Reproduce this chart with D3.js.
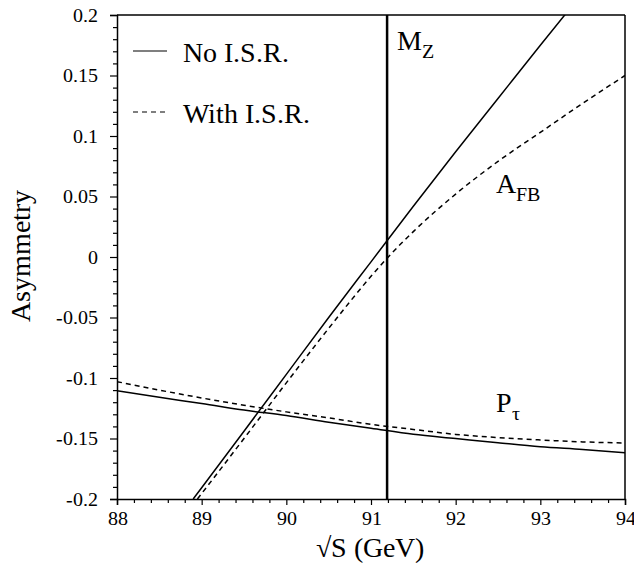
<!DOCTYPE html>
<html><head><meta charset="utf-8">
<script src="https://cdn.jsdelivr.net/npm/d3@7"></script>
<style>
@font-face { font-family: "ChartSerif"; src: local("Liberation Serif"), local("LiberationSerif"), local("Liberation Serif Regular"), local("Tinos"), local("Times New Roman"); }
body { margin: 0; }
svg text { font-family: "ChartSerif", "Liberation Serif", "Times New Roman", Tinos, serif !important; }
</style>
</head><body>
<script>
// ---- data ----
const afbNoIsrX   = [88.9, 89.0, 89.5, 90.0, 90.5, 91.0, 91.5, 92.0, 92.5, 93.0, 93.3];
const afbNoIsrY   = [-0.200, -0.1907, -0.144, -0.097, -0.050, -0.004, 0.042, 0.087, 0.131, 0.175, 0.201];
const afbIsrX     = [88.95, 89.0, 89.5, 90.0, 90.5, 91.0, 91.19, 91.5, 92.0, 92.5, 93.0, 93.5, 94.0];
const afbIsrY     = [-0.200, -0.1955, -0.150, -0.104, -0.059, -0.016, -0.001, 0.021, 0.052, 0.079, 0.103, 0.127, 0.150];
const ptauX       = [88.0, 88.5, 89.0, 89.5, 90.0, 90.5, 91.0, 91.5, 92.0, 92.5, 93.0, 93.5, 94.0];
const ptauNoIsrY  = [-0.1105, -0.116, -0.121, -0.1265, -0.131, -0.1365, -0.1415, -0.1465, -0.150, -0.1535, -0.1568, -0.159, -0.1617];
const ptauIsrY    = [-0.103, -0.110, -0.1165, -0.1225, -0.128, -0.133, -0.1383, -0.1425, -0.1466, -0.1492, -0.1512, -0.1528, -0.1537];
const mZ = 91.19;
const xTickValues = [88, 89, 90, 91, 92, 93, 94];
const xTickLabels = ["88", "89", "90", "91", "92", "93", "94"];
const yTickValues = [0.2, 0.15, 0.1, 0.05, 0, -0.05, -0.1, -0.15, -0.2];
const yTickLabels = ["0.2", "0.15", "0.1", "0.05", "0", "-0.05", "-0.1", "-0.15", "-0.2"];
const legendLabels = ["No I.S.R.", "With I.S.R."];

// ---- layout ----
const W = 634, H = 567;
const L = 117, R = 625, T = 15, B = 499;

const svg = d3.select("body").append("svg").attr("width", W).attr("height", H)
  .style("display", "block");
const x = d3.scaleLinear().domain([88, 94]).range([L, R]);
const y = d3.scaleLinear().domain([-0.2, 0.2]).range([B, T]);

svg.append("defs").append("clipPath").attr("id", "clip")
  .append("rect").attr("x", L).attr("y", T).attr("width", R - L).attr("height", B - T);

// axes
const xMinor = d3.range(88, 94.001, 0.2).filter(v => Math.abs(v - Math.round(v)) > 1e-6);
const yMinor = d3.range(-0.2, 0.2001, 0.01).filter(v => Math.abs(v * 20 - Math.round(v * 20)) > 1e-6);

const gx = svg.append("g").attr("transform", `translate(0,${B})`)
  .call(d3.axisBottom(x).tickValues(xTickValues).tickSize(6)
    .tickFormat((d, i) => xTickLabels[i]).tickPadding(3));
svg.append("g").attr("transform", `translate(0,${B})`)
  .call(d3.axisBottom(x).tickValues(xMinor).tickSize(4).tickFormat(""))
  .select(".domain").remove();
const gy = svg.append("g").attr("transform", `translate(${L},0)`)
  .call(d3.axisLeft(y).tickValues(yTickValues).tickSize(7)
    .tickFormat((d, i) => yTickLabels[i]).tickPadding(12));
svg.append("g").attr("transform", `translate(${L},0)`)
  .call(d3.axisLeft(y).tickValues(yMinor).tickSize(4).tickFormat(""))
  .select(".domain").remove();

svg.selectAll("g").attr("font-family", null);
svg.selectAll(".domain").attr("stroke-width", 1.5);
svg.selectAll(".tick line").attr("stroke-width", 1.2);
svg.selectAll(".tick text").attr("font-size", 20).attr("fill", "#000");
gx.selectAll(".tick text").attr("dy", "0.85em");

// frame top & right
svg.append("line").attr("x1", L).attr("x2", R).attr("y1", T).attr("y2", T)
  .attr("stroke", "#000").attr("stroke-width", 1.5);
svg.append("line").attr("x1", R).attr("x2", R).attr("y1", T).attr("y2", B)
  .attr("stroke", "#000").attr("stroke-width", 1.5);

// curves
const line = d3.line().x(d => x(d[0])).y(d => y(d[1])).curve(d3.curveMonotoneX);
const plot = svg.append("g").attr("clip-path", "url(#clip)");
const series = [
  {xs: afbNoIsrX, ys: afbNoIsrY, dash: null},
  {xs: afbIsrX, ys: afbIsrY, dash: "5,4"},
  {xs: ptauX, ys: ptauNoIsrY, dash: null},
  {xs: ptauX, ys: ptauIsrY, dash: "5,4"}
];
series.forEach(s => {
  plot.append("path").datum(s.xs.map((v, i) => [v, s.ys[i]]))
    .attr("d", line).attr("fill", "none").attr("stroke", "#000")
    .attr("stroke-width", 1.5).attr("stroke-dasharray", s.dash);
});

// M_Z line
svg.append("line").attr("x1", x(mZ)).attr("x2", x(mZ)).attr("y1", y(0.2)).attr("y2", y(-0.2))
  .attr("stroke", "#000").attr("stroke-width", 2.5);

// labels
function subLabel(px, py, main, sub) {
  const t = svg.append("text").attr("x", px).attr("y", py)
    .attr("font-size", 28).attr("fill", "#000");
  t.append("tspan").text(main);
  t.append("tspan").attr("font-size", 20).attr("dy", 8).text(sub);
}
subLabel(397, 50, "M", "Z");
subLabel(496, 193, "A", "FB");
subLabel(496, 412, "P", "τ");

// legend
[0, 1].forEach(i => {
  const ly = [51, 112][i];
  svg.append("line").attr("x1", 133).attr("x2", 167).attr("y1", ly).attr("y2", ly)
    .attr("stroke", "#000").attr("stroke-width", 1.2)
    .attr("stroke-dasharray", i ? "5,4" : null);
  svg.append("text").attr("x", 183).attr("y", ly + 11)
    .attr("font-size", 28).attr("fill", "#000")
    .text(legendLabels[i]);
});

// axis titles
svg.append("text").attr("x", (L + R) / 2 - 1).attr("y", 557).attr("text-anchor", "middle")
  .attr("font-size", 28).attr("fill", "#000").text("√S (GeV)");
svg.append("text").attr("transform", `translate(30,256) rotate(-90)`).attr("text-anchor", "middle")
  .attr("font-size", 28).attr("fill", "#000").text("Asymmetry");
</script>
</body></html>
